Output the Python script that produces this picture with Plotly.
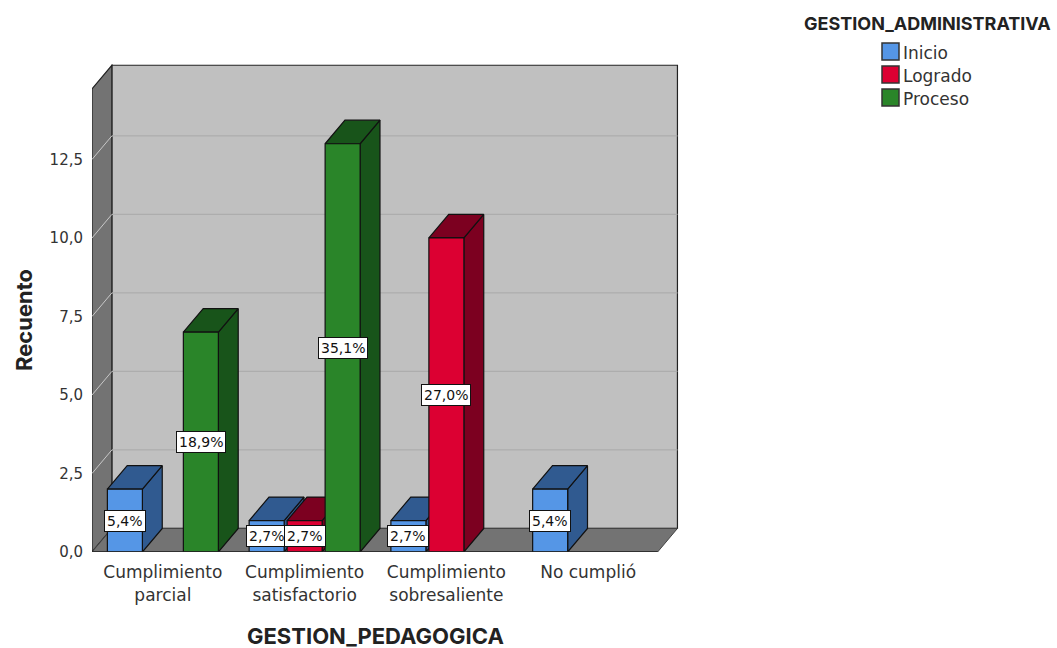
import plotly.graph_objects as go

categorias = ["Cumplimiento<br>parcial", "Cumplimiento<br>satisfactorio", "Cumplimiento<br>sobresaliente", "No cumplió"]
series = ["Inicio", "Logrado", "Proceso"]
inicio = [2, 1, 1, 2]
logrado = [0, 1, 10, 0]
proceso = [7, 13, 0, 0]
inicio_pct = ["5,4%", "2,7%", "2,7%", "5,4%"]
logrado_pct = ["", "2,7%", "27,0%", ""]
proceso_pct = ["18,9%", "35,1%", "", ""]
y_ticks = [0, 2.5, 5, 7.5, 10, 12.5]
y_labels = ["0,0", "2,5", "5,0", "7,5", "10,0", "12,5"]

valores = [inicio, logrado, proceso]
etiquetas = [inicio_pct, logrado_pct, proceso_pct]
frente = ["#5596E6", "#DC0032", "#2A8529"]
lado = ["#305A90", "#7C0020", "#18541A"]

FONT = "DejaVu Sans, Liberation Sans, Arial, sans-serif"
BOLD = "Inter, Liberation Sans, Arial, sans-serif"
INK = "#333333"
EDGE = "#111111"

# plot area in pixels, everything else hangs off this
LEFT, RIGHT, TOP, BOTTOM = 92, 680, 64, 552
X0, X1 = -0.5, 3.648
Y0, Y1 = 0, 15.54
DX, DY = 0.14, 0.75  # depth of the 3d look, in axis units
Y_FRONT = 14.75
X_FRONT = 3.49
BAR_W = 0.247
STEP = 0.268


def paper_x(px):
    return (px - LEFT) / (RIGHT - LEFT)


def paper_y(py):
    return (BOTTOM - py) / (BOTTOM - TOP)


def polygon(xs, ys, fill, zorder, line=EDGE):
    return go.Scatter(
        x=xs + xs[:1], y=ys + ys[:1], mode="lines", fill="toself", fillcolor=fill,
        line=dict(color=line, width=1.2), hoverinfo="skip", showlegend=False, zorder=zorder,
    )


def page_text(px, py, text, size, color=INK, xanchor="center", angle=0, family=FONT):
    return dict(x=paper_x(px), y=paper_y(py), xref="paper", yref="paper", text=text, showarrow=False,
                xanchor=xanchor, yanchor="middle", textangle=angle, font=dict(family=family, size=size, color=color))


fig = go.Figure()
shapes = []
annotations = []

# walls and floor
shapes.append(dict(type="rect", x0=X0 + DX, x1=X_FRONT + DX, y0=DY, y1=Y_FRONT + DY, fillcolor="#C0C0C0",
                   line=dict(color="#222222", width=1.2), layer="below"))
shapes.append(dict(type="path", path=f"M{X0},0 L{X0 + DX},{DY} L{X0 + DX},{Y_FRONT + DY} L{X0},{Y_FRONT} Z",
                   fillcolor="#737373", line=dict(color="#222222", width=1.2), layer="below"))
shapes.append(dict(type="path", path=f"M{X0},0 L{X_FRONT},0 L{X_FRONT + DX},{DY} L{X0 + DX},{DY} Z",
                   fillcolor="#737373", line=dict(color="#444444", width=1), layer="below"))
for t in y_ticks[1:]:
    shapes.append(dict(type="line", x0=X0 + DX, x1=X_FRONT + DX, y0=t + DY, y1=t + DY,
                       line=dict(color="#ADADAD", width=1.2), layer="below"))
    shapes.append(dict(type="line", x0=X0, x1=X0 + DX, y0=t, y1=t + DY,
                       line=dict(color="#C8C8C8", width=1), layer="below"))
shapes.append(dict(type="line", x0=X0, x1=X_FRONT, y0=0, y1=0, line=dict(color="#222222", width=1.5)))

# bars, left to right so nearer ones cover the depth faces of the previous
z = 1
for c in range(len(categorias)):
    for s in range(len(series)):
        v = valores[s][c]
        if v == 0:
            continue
        pos = c + (s - 1) * STEP
        xl, xr = pos - BAR_W / 2, pos + BAR_W / 2
        fig.add_trace(polygon([xr, xr + DX, xr + DX, xr], [0, DY, v + DY, v], lado[s], z))
        fig.add_trace(polygon([xl, xr, xr + DX, xl + DX], [v, v, v + DY, v + DY], lado[s], z))
        fig.add_trace(go.Bar(
            x=[pos], y=[v], width=BAR_W, name=series[s], marker=dict(color=frente[s], line=dict(color=EDGE, width=1.2)),
            hoverinfo="skip", showlegend=False, zorder=z + 1,
        ))
        z += 2
        annotations.append(dict(
            x=pos, y=v / 2, xref="x", yref="y", text=etiquetas[s][c], showarrow=False,
            font=dict(family=FONT, size=14, color="#111111"), bgcolor="white", bordercolor="#111111",
            borderwidth=1, borderpad=2,
        ))

# legend drawn by hand, the swatches sit right against the text
annotations.append(page_text(927, 24, "<b>GESTION_ADMINISTRATIVA</b>", 18, "#222222", family=BOLD))
for s, name in enumerate(series):
    top = 43 + s * 23
    shapes.append(dict(type="rect", xref="paper", yref="paper", x0=paper_x(882), x1=paper_x(899),
                       y0=paper_y(top), y1=paper_y(top + 17), fillcolor=frente[s], line=dict(color="#333333", width=1.5)))
    annotations.append(page_text(901, top + 10, name, 17, xanchor="left"))

annotations.append(page_text(375.5, 636, "<b>GESTION_PEDAGOGICA</b>", 22, "#222222", family=BOLD))
annotations.append(page_text(24, 320, "<b>Recuento</b>", 22, "#222222", angle=-90, family=BOLD))

fig.update_layout(
    width=1057,
    height=648,
    margin=dict(l=LEFT, r=1057 - RIGHT, t=TOP, b=648 - BOTTOM),
    paper_bgcolor="white",
    plot_bgcolor="white",
    showlegend=False,
    shapes=shapes,
    annotations=annotations,
    font=dict(family=FONT, color=INK),
)
fig.update_xaxes(range=[X0, X1], tickvals=list(range(len(categorias))), ticktext=categorias, showgrid=False, zeroline=False,
                 showline=False, ticks="outside", ticklen=5, tickcolor="rgba(0,0,0,0)", tickfont=dict(size=17, color=INK))
fig.update_yaxes(range=[Y0, Y1], tickvals=y_ticks, ticktext=y_labels, showgrid=False, zeroline=False, showline=False,
                 ticks="outside", ticklen=5, tickcolor="rgba(0,0,0,0)", tickfont=dict(size=15, color=INK))

fig.write_html("out.html", config={"displayModeBar": False}, post_script="document.body.style.margin = '0';")
